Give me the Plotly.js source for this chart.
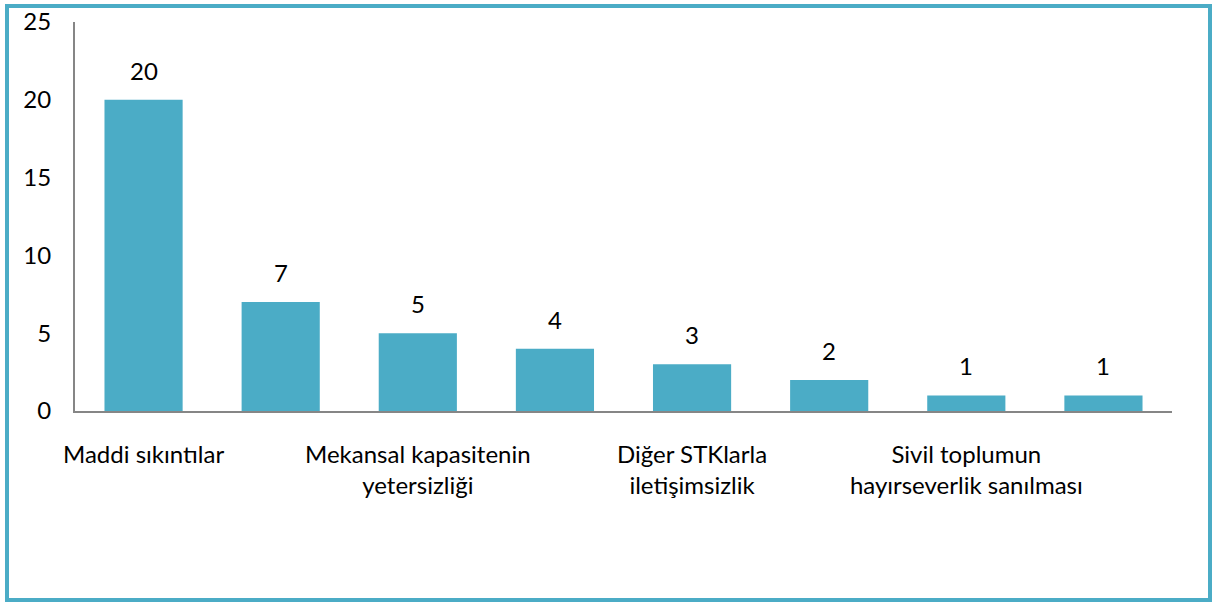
<!DOCTYPE html>
<html>
<head>
<meta charset="utf-8">
<script src="https://cdn.plot.ly/plotly-3.0.1.min.js"></script>
<style>
  body { margin: 0; background: #fff; }
  #wrap { position: relative; width: 1214px; height: 605px; }
  #frame {
    position: absolute; left: 5px; top: 4px; width: 1207px; height: 598px;
    box-sizing: border-box; border: 4px solid #4BACC6; pointer-events: none;
  }
</style>
</head>
<body>
<div id="wrap">
  <div id="myPlot" style="width:1214px;height:605px;"></div>
  <div id="frame"></div>
</div>
<script>
// Only every other category label is visible in the original chart
const categories = [
  "Maddi sıkıntılar", "",
  "Mekansal kapasitenin<br>yetersizliği", "",
  "Diğer STKlarla<br>iletişimsizlik", "",
  "Sivil toplumun<br>hayırseverlik sanılması", ""
];
const counts = [20, 7, 5, 4, 3, 2, 1, 1];

const positions = categories.map((c, i) => i);
const shownTicks = positions.filter((i) => categories[i] !== "");
const shownText = shownTicks.map((i) => categories[i]);

const font = { family: "Lato, 'Open Sans', sans-serif", size: 24, color: "#000" };

const data = [
  {
    x: positions,
    y: counts,
    type: "bar",
    marker: { color: "#4BACC6" },
    hoverinfo: "skip",
  },
];

// value labels above the bars
const labels = positions.map((x, i) => ({
  x: x,
  y: counts[i],
  text: String(counts[i]),
  showarrow: false,
  xanchor: "center",
  yanchor: "bottom",
  yshift: 13,
  font: font,
}));

const layout = {
  width: 1214,
  height: 605,
  margin: { l: 75, r: 42, t: 22, b: 194 },
  paper_bgcolor: "#fff",
  plot_bgcolor: "#fff",
  font: font,
  showlegend: false,
  bargap: 0.43,
  xaxis: {
    range: [-0.5, 7.5],
    tickmode: "array",
    tickvals: shownTicks,
    ticktext: shownText,
    ticks: "",
    showgrid: false,
    zeroline: false,
    showline: true,
    linecolor: "#868686",
    linewidth: 2,
    ticklabelstandoff: 21,
    tickfont: font,
  },
  yaxis: {
    range: [0, 25],
    dtick: 5,
    ticks: "",
    showgrid: false,
    zeroline: false,
    showline: true,
    linecolor: "#868686",
    linewidth: 2,
    ticklabelstandoff: 17,
    tickfont: font,
  },
  annotations: labels,
};

Plotly.newPlot("myPlot", data, layout, { displayModeBar: false, staticPlot: true });
</script>
</body>
</html>
